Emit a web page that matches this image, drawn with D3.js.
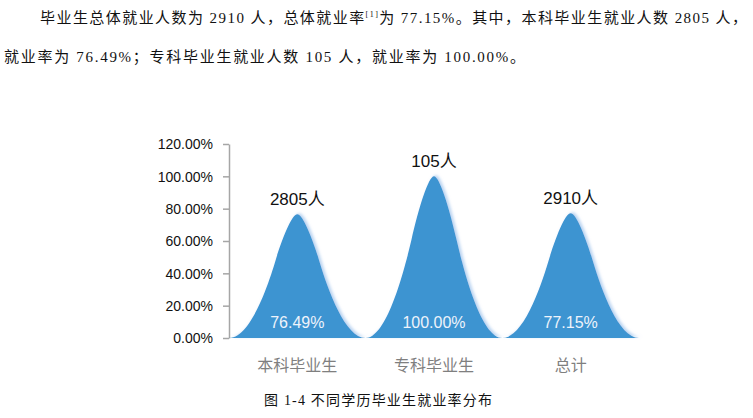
<html>
<head>
<meta charset="UTF-8">
<script src="https://d3js.org/d3.v7.min.js"></script>
<style>
  body { margin: 0; background: #fff; }
  .para { font-family: "Liberation Serif", "DejaVu Serif", "Noto Sans CJK SC", serif; font-size: 15px; fill: #111; }
  .axis .domain, .axis line { stroke: #a6a6a6; stroke-width: 1.5px; }
  .axis text { font-family: "Liberation Sans", Arial, sans-serif; font-size: 14px; fill: #111; }
</style>
</head>
<body>
<svg id="chart" width="753" height="418"></svg>
<script>
// data
const categories = ['本科毕业生', '专科毕业生', '总计'];
const rates = [76.49, 100.00, 77.15];
const counts = ['2805人', '105人', '2910人'];
const yTicks = [0, 20, 40, 60, 80, 100, 120];

const svg = d3.select('#chart');

// paragraph above the chart
const p1 = svg.append('text').attr('class', 'para').attr('x', 40).attr('y', 23)
  .attr('textLength', 707).attr('lengthAdjust', 'spacing');
p1.append('tspan').text('毕业生总体就业人数为 2910 人，总体就业率');
p1.append('tspan').attr('font-size', 8).attr('dy', -6).text('[1]');
p1.append('tspan').attr('dy', 6).text('为 77.15%。其中，本科毕业生就业人数 2805 人，');

svg.append('text').attr('class', 'para').attr('x', 4).attr('y', 62)
  .attr('textLength', 521).attr('lengthAdjust', 'spacing')
  .text('就业率为 76.49%；专科毕业生就业人数 105 人，就业率为 100.00%。');

// chart area
const x = d3.scaleBand().domain(categories).range([229, 639]).padding(0);
const y = d3.scaleLinear().domain([0, 120]).range([338, 144]);

const defs = svg.append('defs');
const f = defs.append('filter').attr('id', 'glow').attr('x', '-20%').attr('y', '-20%').attr('width', '140%').attr('height', '140%');
f.append('feDropShadow').attr('dx', 2).attr('dy', -1).attr('stdDeviation', 1.5)
  .attr('flood-color', '#a9c9ee').attr('flood-opacity', 0.8);

svg.append('g').attr('class', 'axis')
  .attr('transform', 'translate(229,0)')
  .call(d3.axisLeft(y).tickValues(yTicks).tickSize(6).tickSizeOuter(0).tickPadding(10)
    .tickFormat(d => d.toFixed(2) + '%'))
  .call(g => g.selectAll('text').attr('dy', '0.35em'));

// bell shaped marks: each half is two cubics (base -> inflection -> peak),
// control points given as fractions of half band width (u) and of bar height (v)
function bell(d, i) {
  const c = categories[i];
  const h = x.bandwidth() / 2, cx = x(c) + h;
  const y0 = y(0), yp = y(d);
  const P = (u, v, s) => [cx + s * (1 - u) * h, y0 + v * (yp - y0)];
  const half = s => [
    [P(0.30, 0, s), P(0.55, 0.39, s), P(0.67, 0.607, s)],
    [P(0.78, 0.81, s), P(0.92, 1, s), P(1, 1, s)]
  ];
  const L = half(-1), R = half(1);
  const pt = p => p.join(',');
  return `M${pt(P(0, 0, -1))}` +
    ` C${L[0].map(pt).join(' ')} C${L[1].map(pt).join(' ')}` +
    ` C${pt(R[1][1])} ${pt(R[1][0])} ${pt(R[0][2])}` +
    ` C${pt(R[0][1])} ${pt(R[0][0])} ${pt(P(0, 0, 1))} Z`;
}

svg.append('g').selectAll('path').data(rates).join('path')
  .attr('d', bell)
  .attr('fill', '#3c94d1')
  .attr('filter', 'url(#glow)');

// count labels above peaks
svg.append('g').selectAll('text').data(rates).join('text')
  .attr('x', (d, i) => x(categories[i]) + x.bandwidth() / 2)
  .attr('y', d => y(d) - 9)
  .attr('text-anchor', 'middle')
  .attr('font-family', '"Liberation Sans", "Noto Sans CJK SC", sans-serif')
  .attr('font-size', 17).attr('fill', '#111')
  .text((d, i) => counts[i]);

// rate labels inside
svg.append('g').selectAll('text').data(rates).join('text')
  .attr('x', (d, i) => x(categories[i]) + x.bandwidth() / 2)
  .attr('y', 328)
  .attr('text-anchor', 'middle')
  .attr('font-family', '"Liberation Sans", Arial, sans-serif')
  .attr('font-size', 16).attr('fill', '#eef3fb')
  .text(d => d.toFixed(2) + '%');

// category labels
svg.append('g').selectAll('text').data(categories).join('text')
  .attr('x', d => x(d) + x.bandwidth() / 2)
  .attr('y', 371)
  .attr('text-anchor', 'middle')
  .attr('font-family', '"Noto Sans CJK SC", sans-serif')
  .attr('font-size', 16).attr('fill', '#7f7f7f')
  .text(d => d);

// caption
svg.append('text').attr('x', 378).attr('y', 405).attr('text-anchor', 'middle')
  .attr('font-family', '"Liberation Serif", "Noto Sans CJK SC", serif')
  .attr('font-size', 14).attr('fill', '#111')
  .attr('textLength', 228).attr('lengthAdjust', 'spacing')
  .text('图 1-4  不同学历毕业生就业率分布');
</script>
</body>
</html>
